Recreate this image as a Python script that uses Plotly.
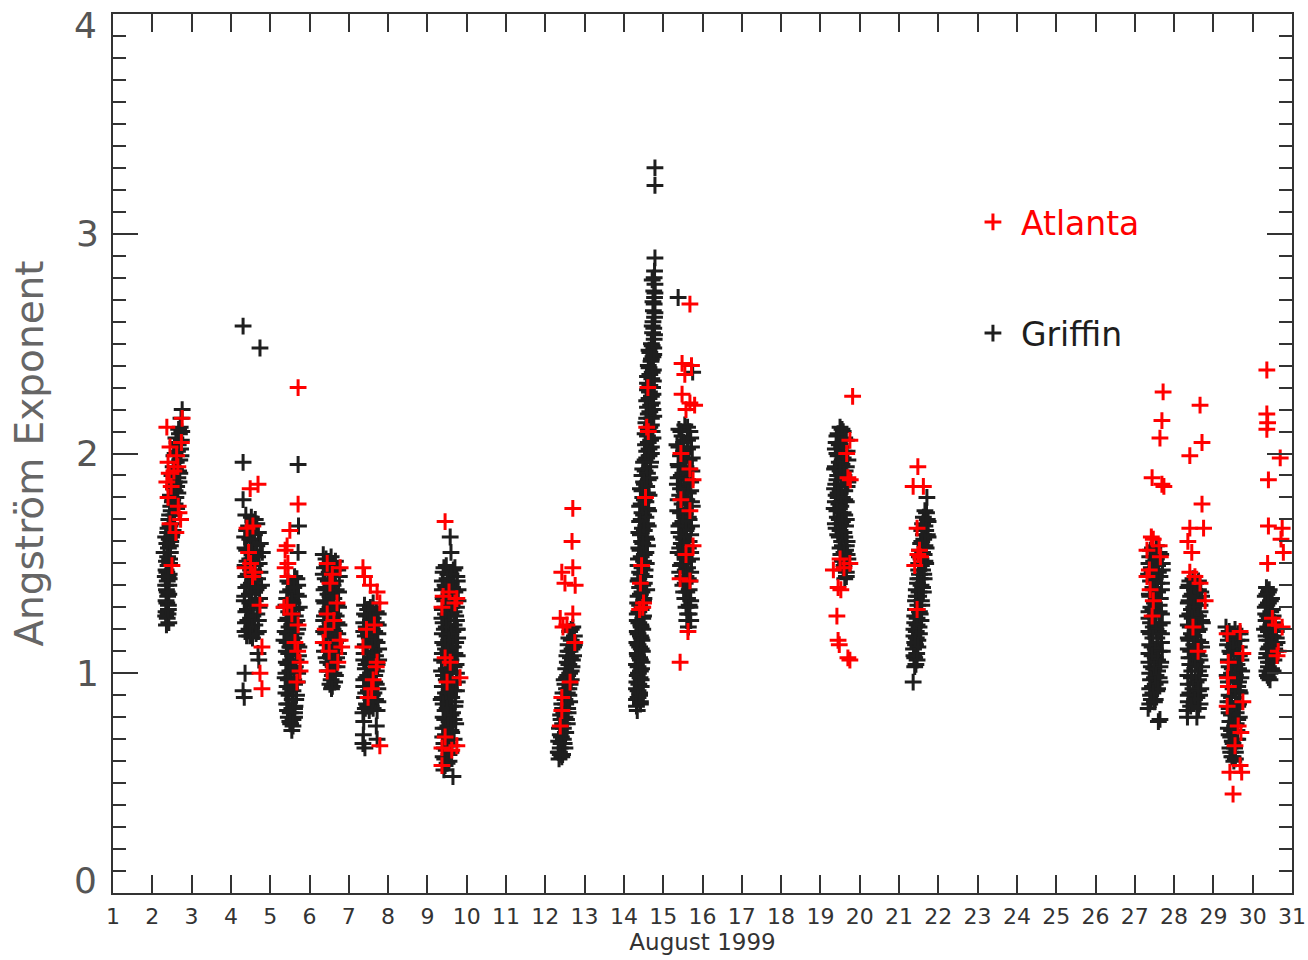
import plotly.graph_objects as go

# ---------------- Griffin (black) : (day of August 1999, Angstrom exponent) ----------------
griffin_aug02 = [(2.36,1.22),(2.38,1.25),(2.35,1.28),(2.40,1.27),(2.37,1.32),(2.39,1.35),(2.36,1.38),(2.41,1.31),
    (2.38,1.42),(2.42,1.40),(2.37,1.46),(2.40,1.49),(2.43,1.45),(2.39,1.53),(2.44,1.52),(2.41,1.57),(2.46,1.55),
    (2.43,1.61),(2.39,1.64),(2.47,1.60),(2.45,1.67),(2.50,1.63),(2.42,1.70),(2.52,1.68),(2.48,1.74),(2.55,1.72),
    (2.51,1.78),(2.46,1.81),(2.58,1.77),(2.54,1.84),(2.60,1.80),(2.57,1.87),(2.50,1.90),(2.62,1.85),(2.59,1.93),
    (2.65,1.89),(2.61,1.96),(2.55,1.99),(2.67,1.92),(2.64,2.01),(2.70,1.97),(2.66,2.04),(2.60,2.07),(2.72,2.02),
    (2.69,2.09),(2.74,2.06),(2.71,2.12),(2.76,2.20),(2.73,2.16),(2.30,1.55),(2.33,1.44),(2.34,1.62),
    (2.42,1.23),(2.34,1.26),(2.41,1.29),(2.35,1.33),(2.42,1.36),(2.34,1.40),(2.43,1.43),(2.35,1.47),(2.44,1.50),
    (2.36,1.51),(2.46,1.58),(2.37,1.59),(2.49,1.62),(2.40,1.66),(2.53,1.65),(2.44,1.72),(2.57,1.70),(2.47,1.76),
    (2.62,1.75),(2.52,1.79),(2.65,1.82),(2.55,1.86),(2.68,1.87),(2.53,1.94),(2.70,1.91),(2.58,2.00),(2.73,1.99),
    (2.63,2.05),(2.75,2.10),(2.67,2.11),(2.48,1.70),(2.58,1.83),(2.40,1.44),(2.38,1.37)]
griffin_aug04 = [(4.38,1.72),(4.62,1.70),(4.45,1.67),(4.70,1.64),(4.35,1.62),(4.55,1.60),(4.66,1.58),(4.40,1.56),
    (4.60,1.54),(4.48,1.52),(4.72,1.50),(4.36,1.49),(4.58,1.47),(4.44,1.45),(4.68,1.43),(4.52,1.41),(4.38,1.39),
    (4.64,1.38),(4.47,1.36),(4.73,1.34),(4.34,1.33),(4.57,1.31),(4.42,1.29),(4.66,1.27),(4.50,1.25),(4.37,1.23),
    (4.61,1.22),(4.46,1.20),(4.70,1.19),(4.40,1.17),(4.55,1.16),(4.31,2.58),(4.74,2.48),(4.31,1.96),(4.31,1.79),
    (4.36,1.00),(4.31,0.92),(4.34,0.89),(4.69,1.09),(4.71,1.06),(4.80,1.55),(4.78,1.40),
    (4.52,1.71),(4.66,1.68),(4.40,1.65),(4.60,1.63),(4.48,1.61),(4.75,1.59),(4.36,1.57),(4.53,1.55),(4.68,1.53),
    (4.41,1.51),(4.62,1.49),(4.50,1.47),(4.74,1.46),(4.38,1.44),(4.56,1.42),(4.45,1.40),(4.70,1.39),(4.52,1.37),
    (4.35,1.35),(4.62,1.33),(4.48,1.32),(4.72,1.30),(4.38,1.28),(4.56,1.26),(4.43,1.24),(4.70,1.24),(4.53,1.21),
    (4.36,1.19),(4.64,1.18),(4.48,1.17)]
griffin_aug05 = [(5.72,1.67),(5.71,1.55),(5.71,1.95),(5.62,1.44),(5.45,1.42),(5.70,1.40),(5.52,1.38),(5.66,1.36),
    (5.42,1.34),(5.58,1.32),(5.74,1.30),(5.47,1.28),(5.64,1.26),(5.40,1.24),(5.55,1.22),(5.70,1.20),(5.44,1.18),
    (5.60,1.16),(5.50,1.14),(5.73,1.12),(5.41,1.10),(5.57,1.08),(5.66,1.06),(5.45,1.04),(5.61,1.02),(5.40,1.00),
    (5.53,0.98),(5.69,0.96),(5.43,0.94),(5.58,0.92),(5.48,0.90),(5.65,0.88),(5.42,0.86),(5.55,0.84),(5.62,0.82),
    (5.46,0.80),(5.58,0.79),(5.52,0.77),(5.55,0.74),(5.63,0.85),(5.50,1.12),(5.68,1.24),(5.36,1.30),(5.35,1.15),
    (5.38,0.98),
    (5.68,1.43),(5.50,1.41),(5.60,1.39),(5.44,1.37),(5.72,1.35),(5.55,1.33),(5.40,1.31),(5.66,1.29),(5.52,1.27),
    (5.45,1.25),(5.62,1.23),(5.48,1.21),(5.38,1.19),(5.66,1.18),(5.54,1.16),(5.43,1.14),(5.68,1.13),(5.59,1.11),
    (5.47,1.09),(5.72,1.08),(5.52,1.06),(5.41,1.05),(5.64,1.03),(5.50,1.01),(5.70,1.00),(5.46,0.97),(5.62,0.95),
    (5.52,0.93),(5.40,0.91),(5.67,0.90),(5.56,0.88),(5.47,0.86),(5.62,0.84),(5.51,0.82),(5.44,0.83),(5.62,0.80),
    (5.50,0.78),(5.58,0.76),(5.60,0.97)]
griffin_aug06 = [(6.35,1.54),(6.42,1.52),(6.60,1.50),(6.38,1.48),(6.72,1.47),(6.50,1.46),(6.40,1.43),(6.66,1.42),
    (6.55,1.40),(6.37,1.38),(6.74,1.37),(6.47,1.36),(6.62,1.34),(6.39,1.32),(6.70,1.31),(6.52,1.30),(6.44,1.28),
    (6.68,1.26),(6.58,1.25),(6.36,1.24),(6.75,1.22),(6.48,1.21),(6.64,1.19),(6.41,1.18),(6.56,1.16),(6.72,1.15),
    (6.45,1.13),(6.62,1.11),(6.38,1.10),(6.53,1.08),(6.69,1.07),(6.46,1.05),(6.60,1.03),(6.50,1.01),(6.66,0.99),
    (6.55,0.97),(6.58,0.94),(6.62,1.00),
    (6.55,1.53),(6.66,1.51),(6.45,1.49),(6.62,1.47),(6.35,1.45),(6.76,1.44),(6.48,1.42),(6.60,1.40),(6.42,1.39),
    (6.68,1.38),(6.52,1.35),(6.36,1.33),(6.58,1.32),(6.74,1.30),(6.47,1.29),(6.62,1.27),(6.38,1.26),(6.52,1.23),
    (6.70,1.23),(6.44,1.21),(6.60,1.20),(6.36,1.19),(6.72,1.18),(6.52,1.17),(6.66,1.14),(6.40,1.14),(6.58,1.12),
    (6.48,1.10),(6.74,1.09),(6.42,1.07),(6.62,1.06),(6.55,1.04),(6.70,1.03),(6.46,1.01),(6.58,0.99),(6.64,0.96),
    (6.52,0.95),(6.56,0.93)]
griffin_aug07 = [(7.40,1.31),(7.55,1.30),(7.70,1.28),(7.45,1.26),(7.62,1.25),(7.38,1.23),(7.75,1.22),(7.50,1.20),
    (7.66,1.19),(7.42,1.17),(7.58,1.15),(7.72,1.14),(7.47,1.12),(7.64,1.10),(7.39,1.09),(7.55,1.07),(7.76,1.06),
    (7.44,1.04),(7.60,1.02),(7.70,1.01),(7.48,0.99),(7.38,0.97),(7.66,0.96),(7.53,0.94),(7.74,0.93),(7.43,0.91),
    (7.60,0.90),(7.68,0.88),(7.45,0.86),(7.57,0.85),(7.36,0.82),(7.72,0.83),(7.38,0.78),(7.70,0.76),(7.37,0.72),
    (7.72,0.70),(7.36,0.68),(7.41,0.66),(7.50,1.18),(7.62,1.05),
    (7.62,1.32),(7.48,1.29),(7.75,1.27),(7.40,1.27),(7.55,1.24),(7.70,1.23),(7.44,1.21),(7.60,1.20),(7.38,1.19),
    (7.74,1.18),(7.52,1.16),(7.66,1.15),(7.42,1.13),(7.58,1.12),(7.76,1.11),(7.46,1.09),(7.68,1.08),(7.38,1.06),
    (7.52,1.05),(7.72,1.04),(7.42,1.02),(7.56,1.00),(7.66,0.99),(7.44,0.98),(7.60,0.96),(7.38,0.94),(7.70,0.95),
    (7.50,0.92),(7.64,0.91),(7.40,0.89),(7.56,0.88),(7.74,0.87),(7.48,0.85),(7.62,0.84),(7.42,0.84),(7.52,0.83)]
griffin_aug09 = [(9.58,1.62),(9.60,1.55),(9.42,1.48),(9.66,1.47),(9.52,1.45),(9.75,1.44),(9.38,1.42),(9.60,1.41),
    (9.47,1.39),(9.70,1.37),(9.55,1.36),(9.40,1.34),(9.78,1.33),(9.63,1.31),(9.45,1.30),(9.68,1.28),(9.52,1.26),
    (9.37,1.25),(9.74,1.24),(9.58,1.22),(9.43,1.20),(9.65,1.19),(9.50,1.17),(9.77,1.16),(9.39,1.14),(9.60,1.12),
    (9.46,1.11),(9.70,1.09),(9.55,1.07),(9.36,1.06),(9.73,1.04),(9.48,1.02),(9.63,1.01),(9.41,0.99),(9.57,0.97),
    (9.76,0.96),(9.44,0.94),(9.67,0.92),(9.52,0.90),(9.38,0.89),(9.71,0.87),(9.59,0.85),(9.45,0.83),(9.64,0.82),
    (9.40,0.80),(9.55,0.78),(9.72,0.77),(9.47,0.75),(9.62,0.73),(9.39,0.71),(9.68,0.70),(9.50,0.68),(9.43,0.66),
    (9.60,0.64),(9.40,0.62),(9.55,0.60),(9.45,0.58),(9.65,0.53),(9.75,1.20),(9.35,0.88),
    (9.48,1.49),(9.70,1.48),(9.40,1.46),(9.60,1.45),(9.76,1.42),(9.50,1.43),(9.45,1.40),(9.64,1.39),(9.38,1.38),
    (9.78,1.38),(9.52,1.35),(9.68,1.34),(9.44,1.33),(9.58,1.32),(9.74,1.30),(9.38,1.29),(9.60,1.27),(9.46,1.27),
    (9.72,1.26),(9.55,1.24),(9.40,1.23),(9.68,1.22),(9.48,1.21),(9.76,1.20),(9.60,1.18),(9.38,1.18),(9.54,1.15),
    (9.72,1.14),(9.44,1.13),(9.66,1.12),(9.52,1.10),(9.38,1.09),(9.76,1.08),(9.60,1.06),(9.44,1.05),(9.68,1.03),
    (9.52,1.01),(9.36,1.01),(9.74,1.00),(9.60,0.98),(9.48,0.97),(9.66,0.95),(9.38,0.94),(9.58,0.93),(9.74,0.92),
    (9.46,0.91),(9.62,0.89),(9.54,0.87),(9.40,0.86),(9.70,0.85),(9.50,0.84),(9.60,0.81),(9.44,0.79),(9.68,0.79),
    (9.52,0.76),(9.40,0.75),(9.60,0.74),(9.46,0.72),(9.56,0.70),(9.42,0.68),(9.62,0.67),(9.48,0.65),(9.55,0.63),
    (9.44,0.61),(9.50,0.59),(9.42,0.56)]
griffin_aug12 = [(12.70,1.21),(12.62,1.19),(12.74,1.17),(12.66,1.15),(12.58,1.13),(12.72,1.12),(12.63,1.10),
    (12.55,1.08),(12.69,1.06),(12.60,1.04),(12.52,1.02),(12.66,1.01),(12.57,0.99),(12.48,0.97),(12.63,0.95),
    (12.54,0.93),(12.45,0.91),(12.60,0.90),(12.50,0.88),(12.42,0.86),(12.57,0.84),(12.47,0.82),(12.39,0.81),
    (12.54,0.79),(12.44,0.77),(12.36,0.75),(12.51,0.73),(12.41,0.71),(12.34,0.69),(12.48,0.68),(12.38,0.66),
    (12.33,0.64),(12.44,0.63),(12.35,0.61),
    (12.66,1.20),(12.74,1.13),(12.60,1.16),(12.68,1.11),(12.72,1.08),(12.58,1.10),(12.64,1.07),(12.56,1.05),
    (12.68,1.03),(12.62,1.00),(12.54,0.98),(12.66,0.97),(12.50,0.95),(12.60,0.93),(12.56,0.91),(12.46,0.89),
    (12.62,0.87),(12.52,0.86),(12.44,0.84),(12.58,0.82),(12.50,0.80),(12.40,0.79),(12.56,0.77),(12.46,0.75),
    (12.52,0.73),(12.38,0.72),(12.46,0.70),(12.40,0.68),(12.50,0.66),(12.36,0.64),(12.42,0.62),(12.38,0.63)]
griffin_aug14 = [(14.79,3.30),(14.79,3.22),(14.79,2.89),(14.78,2.83),(14.77,2.80),(14.79,2.77),(14.76,2.74),
    (14.78,2.71),(14.77,2.68),(14.75,2.65),(14.78,2.62),(14.74,2.60),(14.76,2.57),(14.73,2.55),(14.77,2.52),
    (14.70,2.50),(14.76,2.48),(14.66,2.46),(14.74,2.44),(14.69,2.42),(14.62,2.40),(14.75,2.38),(14.66,2.36),
    (14.71,2.34),(14.60,2.32),(14.73,2.30),(14.65,2.28),(14.70,2.26),(14.58,2.24),(14.68,2.22),(14.74,2.20),
    (14.62,2.18),(14.70,2.16),(14.56,2.14),(14.66,2.12),(14.72,2.10),(14.60,2.08),(14.68,2.06),(14.55,2.04),
    (14.64,2.02),(14.70,2.00),(14.58,1.98),(14.50,1.96),(14.66,1.94),(14.54,1.92),(14.46,1.90),(14.62,1.88),
    (14.52,1.86),(14.42,1.84),(14.60,1.82),(14.48,1.80),(14.56,1.78),(14.40,1.76),(14.63,1.74),(14.50,1.72),
    (14.44,1.70),(14.58,1.68),(14.47,1.66),(14.38,1.64),(14.55,1.62),(14.45,1.60),(14.60,1.58),(14.41,1.56),
    (14.52,1.54),(14.37,1.52),(14.57,1.50),(14.46,1.48),(14.40,1.46),(14.53,1.44),(14.36,1.42),(14.48,1.40),
    (14.58,1.38),(14.42,1.36),(14.51,1.34),(14.35,1.32),(14.46,1.30),(14.38,1.28),(14.50,1.26),(14.34,1.24),
    (14.43,1.22),(14.48,1.20),(14.36,1.18),(14.44,1.16),(14.33,1.14),(14.40,1.12),(14.47,1.10),(14.35,1.08),
    (14.42,1.06),(14.32,1.04),(14.45,1.02),(14.37,1.00),(14.41,0.98),(14.33,0.96),(14.44,0.94),(14.36,0.92),
    (14.40,0.90),(14.32,0.88),(14.42,0.86),(14.34,0.83),
    (14.72,2.79),(14.79,2.73),(14.74,2.69),(14.79,2.64),(14.72,2.58),(14.78,2.54),(14.72,2.49),(14.64,2.47),
    (14.76,2.45),(14.70,2.43),(14.64,2.39),(14.72,2.37),(14.60,2.35),(14.75,2.33),(14.66,2.31),(14.60,2.29),
    (14.74,2.27),(14.64,2.25),(14.72,2.23),(14.60,2.21),(14.66,2.19),(14.76,2.17),(14.58,2.16),(14.70,2.13),
    (14.62,2.11),(14.54,2.09),(14.74,2.07),(14.62,2.05),(14.70,2.03),(14.58,2.01),(14.64,1.99),(14.54,1.97),
    (14.68,1.96),(14.48,1.93),(14.60,1.91),(14.66,1.89),(14.50,1.87),(14.58,1.85),(14.46,1.83),(14.64,1.81),
    (14.52,1.79),(14.44,1.77),(14.60,1.75),(14.46,1.73),(14.56,1.71),(14.40,1.69),(14.62,1.67),(14.52,1.65),
    (14.42,1.63),(14.58,1.61),(14.48,1.59),(14.38,1.57),(14.56,1.55),(14.44,1.53),(14.50,1.51),(14.36,1.49),
    (14.54,1.47),(14.44,1.45),(14.38,1.43),(14.52,1.41),(14.40,1.39),(14.46,1.37),(14.36,1.35),(14.50,1.33),
    (14.40,1.31),(14.44,1.29),(14.34,1.27),(14.48,1.25),(14.38,1.23),(14.44,1.21),(14.34,1.19),(14.42,1.17),
    (14.46,1.15),(14.36,1.13),(14.44,1.11),(14.34,1.09),(14.40,1.07),(14.46,1.05),(14.36,1.03),(14.42,1.01),
    (14.34,0.99),(14.44,0.97),(14.38,0.95),(14.32,0.93),(14.40,0.91),(14.36,0.89),(14.42,0.87),(14.32,0.85)]
griffin_aug15 = [(15.38,2.71),(15.75,2.37),(15.55,2.13),(15.40,2.11),(15.68,2.10),(15.48,2.08),(15.62,2.06),
    (15.35,2.04),(15.72,2.03),(15.52,2.01),(15.44,1.99),(15.66,1.97),(15.38,1.95),(15.58,1.94),(15.73,1.92),
    (15.46,1.90),(15.62,1.88),(15.36,1.86),(15.54,1.85),(15.70,1.83),(15.42,1.81),(15.60,1.79),(15.48,1.77),
    (15.74,1.76),(15.37,1.74),(15.56,1.72),(15.66,1.70),(15.44,1.68),(15.60,1.66),(15.40,1.64),(15.70,1.63),
    (15.52,1.61),(15.46,1.59),(15.64,1.57),(15.38,1.55),(15.56,1.53),(15.72,1.52),(15.48,1.50),(15.62,1.48),
    (15.42,1.46),(15.58,1.44),(15.68,1.42),(15.50,1.40),(15.60,1.37),(15.55,1.34),(15.66,1.31),(15.62,1.27),
    (15.70,1.24),(15.64,1.21),(15.68,1.30),
    (15.62,2.12),(15.45,2.10),(15.70,2.07),(15.52,2.05),(15.40,2.03),(15.62,2.02),(15.48,2.00),(15.74,1.98),
    (15.56,1.96),(15.40,1.94),(15.66,1.93),(15.50,1.91),(15.38,1.89),(15.70,1.87),(15.58,1.86),(15.44,1.84),
    (15.64,1.82),(15.52,1.80),(15.38,1.79),(15.72,1.78),(15.56,1.75),(15.44,1.73),(15.64,1.71),(15.50,1.69),
    (15.72,1.67),(15.40,1.67),(15.58,1.65),(15.46,1.62),(15.66,1.60),(15.54,1.58),(15.42,1.57),(15.70,1.55),
    (15.50,1.54),(15.62,1.51),(15.44,1.49),(15.56,1.47),(15.70,1.46),(15.50,1.44),(15.64,1.43),(15.56,1.41),
    (15.66,1.38),(15.52,1.37),(15.62,1.34),(15.70,1.33),(15.58,1.30),(15.66,1.27),(15.60,1.24)]
griffin_aug19 = [(19.50,2.12),(19.58,2.10),(19.42,2.08),(19.66,2.06),(19.48,2.04),(19.38,2.02),(19.60,2.01),
    (19.45,1.99),(19.70,1.97),(19.53,1.95),(19.36,1.93),(19.63,1.92),(19.44,1.90),(19.56,1.88),(19.39,1.86),
    (19.68,1.85),(19.50,1.83),(19.40,1.81),(19.62,1.79),(19.47,1.77),(19.35,1.75),(19.58,1.73),(19.43,1.71),
    (19.66,1.70),(19.52,1.68),(19.40,1.66),(19.60,1.64),(19.48,1.62),(19.68,1.60),(19.56,1.58),(19.64,1.56),
    (19.52,1.54),(19.70,1.52),(19.60,1.49),(19.66,1.46),(19.62,1.43),(19.45,1.80),(19.55,1.95),
    (19.55,2.11),(19.45,2.09),(19.62,2.07),(19.40,2.05),(19.54,2.03),(19.68,2.01),(19.42,2.00),(19.58,1.98),
    (19.48,1.96),(19.38,1.94),(19.66,1.94),(19.50,1.92),(19.60,1.90),(19.42,1.88),(19.70,1.87),(19.52,1.86),
    (19.36,1.84),(19.62,1.83),(19.45,1.82),(19.56,1.80),(19.38,1.78),(19.66,1.78),(19.52,1.76),(19.42,1.74),
    (19.62,1.72),(19.48,1.70),(19.56,1.69),(19.38,1.68),(19.64,1.67),(19.50,1.65),(19.44,1.63),(19.62,1.62),
    (19.54,1.60),(19.66,1.58),(19.50,1.57),(19.60,1.55),(19.68,1.54),(19.56,1.51),(19.64,1.50),(19.58,1.47),
    (19.66,1.44)]
griffin_aug21 = [(21.71,1.80),(21.70,1.73),(21.62,1.71),(21.74,1.69),(21.66,1.67),(21.58,1.65),(21.72,1.63),
    (21.63,1.61),(21.55,1.59),(21.69,1.57),(21.60,1.55),(21.52,1.53),(21.66,1.51),(21.57,1.49),(21.50,1.47),
    (21.63,1.45),(21.54,1.43),(21.47,1.41),(21.60,1.39),(21.51,1.37),(21.44,1.35),(21.57,1.33),(21.48,1.31),
    (21.42,1.29),(21.54,1.27),(21.46,1.25),(21.40,1.23),(21.51,1.21),(21.44,1.19),(21.38,1.17),(21.48,1.15),
    (21.42,1.13),(21.37,1.11),(21.45,1.09),(21.40,1.07),(21.43,1.04),(21.36,0.96),
    (21.66,1.74),(21.72,1.70),(21.60,1.68),(21.68,1.65),(21.62,1.63),(21.74,1.62),(21.58,1.60),(21.66,1.58),
    (21.52,1.56),(21.64,1.54),(21.56,1.52),(21.68,1.50),(21.50,1.50),(21.60,1.47),(21.52,1.45),(21.64,1.43),
    (21.48,1.43),(21.56,1.40),(21.44,1.38),(21.62,1.37),(21.50,1.35),(21.42,1.33),(21.58,1.31),(21.46,1.29),
    (21.52,1.28),(21.40,1.26),(21.56,1.24),(21.46,1.22),(21.38,1.20),(21.52,1.18),(21.44,1.16),(21.40,1.14),
    (21.48,1.12),(21.38,1.08),(21.46,1.06),(21.40,1.03)]
griffin_aug27 = [(27.45,1.57),(27.62,1.55),(27.38,1.53),(27.55,1.52),(27.70,1.50),(27.42,1.48),(27.60,1.46),
    (27.35,1.45),(27.52,1.43),(27.68,1.41),(27.46,1.39),(27.58,1.37),(27.37,1.36),(27.65,1.34),(27.50,1.32),
    (27.41,1.30),(27.62,1.28),(27.54,1.27),(27.36,1.25),(27.70,1.23),(27.47,1.21),(27.60,1.19),(27.40,1.18),
    (27.56,1.16),(27.68,1.14),(27.44,1.12),(27.62,1.10),(27.36,1.09),(27.52,1.07),(27.66,1.05),(27.42,1.03),
    (27.58,1.01),(27.38,1.00),(27.50,0.98),(27.64,0.96),(27.45,0.94),(27.56,0.92),(27.40,0.90),(27.52,0.88),
    (27.38,0.86),(27.34,0.84),(27.64,0.79),(27.60,0.78),
    (27.55,1.58),(27.40,1.56),(27.66,1.54),(27.48,1.51),(27.36,1.50),(27.58,1.49),(27.70,1.47),(27.44,1.46),
    (27.64,1.44),(27.40,1.42),(27.56,1.41),(27.48,1.38),(27.68,1.38),(27.38,1.35),(27.56,1.34),(27.62,1.31),
    (27.46,1.29),(27.36,1.28),(27.68,1.27),(27.50,1.26),(27.40,1.23),(27.62,1.22),(27.54,1.20),(27.36,1.19),
    (27.68,1.18),(27.46,1.16),(27.60,1.14),(27.38,1.13),(27.52,1.11),(27.70,1.10),(27.44,1.08),(27.58,1.06),
    (27.36,1.05),(27.64,1.03),(27.48,1.02),(27.54,0.99),(27.40,0.97),(27.62,0.98),(27.52,0.95),(27.38,0.93),
    (27.58,0.93),(27.46,0.91),(27.42,0.88),(27.50,0.87)]
griffin_aug28 = [(28.40,1.42),(28.55,1.41),(28.35,1.39),(28.62,1.38),(28.46,1.36),(28.70,1.35),(28.38,1.33),
    (28.58,1.31),(28.44,1.29),(28.66,1.28),(28.34,1.26),(28.52,1.24),(28.72,1.23),(28.41,1.21),(28.60,1.19),
    (28.48,1.17),(28.36,1.16),(28.68,1.14),(28.54,1.12),(28.42,1.10),(28.64,1.08),(28.38,1.07),(28.56,1.05),
    (28.70,1.03),(28.45,1.01),(28.35,0.99),(28.62,0.97),(28.50,0.95),(28.68,0.93),(28.40,0.91),(28.58,0.89),
    (28.36,0.87),(28.66,0.86),(28.33,0.83),(28.58,0.80),(28.65,0.90),
    (28.48,1.43),(28.62,1.42),(28.38,1.40),(28.52,1.38),(28.68,1.37),(28.42,1.35),(28.60,1.34),(28.36,1.32),
    (28.66,1.31),(28.50,1.30),(28.40,1.27),(28.62,1.26),(28.46,1.25),(28.70,1.24),(28.36,1.22),(28.56,1.21),
    (28.64,1.20),(28.44,1.18),(28.38,1.15),(28.60,1.15),(28.50,1.13),(28.70,1.12),(28.36,1.11),(28.58,1.09),
    (28.46,1.07),(28.66,1.06),(28.40,1.04),(28.54,1.03),(28.62,1.01),(28.44,0.98),(28.66,0.99),(28.56,0.96),
    (28.36,0.95),(28.48,0.93),(28.62,0.92),(28.36,0.90),(28.52,0.88),(28.42,0.85),(28.62,0.84),(28.34,0.80)]
griffin_aug29 = [(29.32,1.21),(29.40,1.19),(29.62,1.18),(29.50,1.16),(29.70,1.15),(29.36,1.13),(29.56,1.11),
    (29.45,1.09),(29.66,1.08),(29.38,1.06),(29.60,1.04),(29.48,1.02),(29.72,1.01),(29.35,0.99),(29.54,0.97),
    (29.64,0.96),(29.42,0.94),(29.58,0.92),(29.68,0.91),(29.46,0.89),(29.37,0.87),(29.62,0.85),(29.52,0.84),
    (29.40,0.82),(29.66,0.80),(29.48,0.78),(29.58,0.77),(29.38,0.75),(29.54,0.73),(29.44,0.71),(29.62,0.70),
    (29.50,0.68),(29.42,0.66),(29.56,0.64),(29.47,0.62),(29.52,0.60),
    (29.55,1.20),(29.68,1.18),(29.44,1.17),(29.60,1.15),(29.38,1.15),(29.66,1.12),(29.50,1.12),(29.42,1.10),
    (29.60,1.08),(29.70,1.06),(29.52,1.05),(29.40,1.03),(29.64,1.02),(29.46,1.00),(29.56,0.99),(29.70,0.98),
    (29.38,0.96),(29.62,0.94),(29.50,0.93),(29.66,0.92),(29.40,0.90),(29.56,0.89),(29.46,0.87),(29.64,0.86),
    (29.40,0.84),(29.58,0.82),(29.46,0.81),(29.62,0.79),(29.42,0.78),(29.54,0.76),(29.60,0.74),(29.46,0.74),
    (29.40,0.72),(29.58,0.70),(29.48,0.69),(29.54,0.66),(29.44,0.64),(29.50,0.62),(29.56,0.61)]
griffin_aug30 = [(30.35,1.39),(30.40,1.37),(30.32,1.35),(30.45,1.33),(30.36,1.31),(30.50,1.29),(30.33,1.27),
    (30.42,1.25),(30.55,1.23),(30.38,1.21),(30.48,1.19),(30.34,1.17),(30.44,1.15),(30.56,1.13),(30.39,1.11),
    (30.50,1.09),(30.35,1.07),(30.46,1.05),(30.40,1.03),(30.52,1.01),(30.37,0.99),(30.44,0.97),(30.58,1.10),
    (30.60,1.16),
    (30.42,1.38),(30.36,1.36),(30.48,1.34),(30.40,1.32),(30.32,1.30),(30.46,1.28),(30.38,1.26),(30.52,1.26),
    (30.34,1.24),(30.46,1.22),(30.56,1.20),(30.40,1.19),(30.52,1.17),(30.36,1.15),(30.48,1.13),(30.42,1.12),
    (30.56,1.11),(30.36,1.09),(30.46,1.08),(30.54,1.06),(30.40,1.05),(30.48,1.02),(30.36,1.01),(30.44,1.00),
    (30.40,0.98),(30.62,1.14),(30.60,1.19),(30.30,1.20)]

# ---------------- Atlanta (red) ----------------
atlanta_aug02 = [(2.37,2.12),(2.76,2.16),(2.45,2.03),(2.40,1.96),(2.65,1.94),(2.37,1.87),(2.40,1.80),(2.68,1.73),
    (2.45,1.68),(2.60,1.64),(2.50,1.49),(2.55,1.92),(2.62,1.99),(2.72,1.70),(2.48,1.85),(2.74,2.05),(2.43,1.91),
    (2.66,1.76)]
atlanta_aug04 = [(4.49,1.84),(4.69,1.86),(4.41,1.66),(4.56,1.67),(4.36,1.48),(4.61,1.46),(4.50,1.50),(4.74,1.31),
    (4.55,1.44),(4.79,1.12),(4.74,1.00),(4.79,0.93),(4.45,1.55)]
atlanta_aug05 = [(5.71,2.30),(5.71,1.77),(5.50,1.65),(5.43,1.58),(5.38,1.56),(5.45,1.50),(5.38,1.48),(5.45,1.44),
    (5.43,1.31),(5.35,1.30),(5.71,1.22),(5.63,1.14),(5.76,1.05),(5.76,1.01),(5.68,0.96),(5.55,1.27),(5.70,1.10)]
atlanta_aug06 = [(6.45,1.50),(6.78,1.48),(6.52,1.41),(6.70,1.32),(6.45,1.27),(6.35,1.14),(6.78,1.15),(6.50,1.10),
    (6.45,1.01),(6.82,1.12),(6.58,1.45),(6.40,1.20),(6.62,1.24),(6.72,1.05)]
atlanta_aug07 = [(7.36,1.48),(7.40,1.44),(7.72,1.37),(7.79,1.32),(7.55,1.40),(7.36,1.12),(7.72,1.05),(7.62,0.97),
    (7.49,0.89),(7.79,0.67),(7.70,1.03),(7.45,1.20),(7.65,1.22),(7.58,0.93)]
atlanta_aug09 = [(9.45,1.69),(9.40,1.35),(9.75,1.34),(9.37,1.30),(9.45,1.07),(9.58,1.05),(9.83,0.98),(9.50,0.96),
    (9.45,0.71),(9.75,0.67),(9.37,0.66),(9.37,0.58),(9.62,0.65),(9.70,1.32),(9.55,1.37)]
atlanta_aug12 = [(12.70,1.75),(12.68,1.60),(12.42,1.46),(12.70,1.48),(12.50,1.41),(12.76,1.40),(12.70,1.27),
    (12.38,1.25),(12.45,1.21),(12.75,1.14),(12.63,0.96),(12.42,0.89),(12.42,0.83),(12.38,0.76),(12.55,1.22)]
atlanta_aug14 = [(14.61,2.30),(14.58,2.12),(14.62,2.10),(14.55,1.80),(14.45,1.49),(14.42,1.41),(14.50,1.32),
    (14.40,1.29),(14.48,1.30)]
atlanta_aug15 = [(15.68,2.68),(15.48,2.41),(15.55,2.36),(15.48,2.27),(15.68,2.23),(15.58,2.20),(15.45,2.00),
    (15.68,1.93),(15.76,1.88),(15.45,1.79),(15.68,1.74),(15.76,1.58),(15.58,1.54),(15.68,1.42),(15.43,1.43),
    (15.63,1.19),(15.43,1.05),(15.80,2.22),(15.72,2.40)]
atlanta_aug19 = [(19.82,2.26),(19.75,2.06),(19.67,2.00),(19.70,1.89),(19.76,1.88),(19.50,1.52),(19.75,1.50),
    (19.33,1.47),(19.45,1.39),(19.52,1.38),(19.42,1.26),(19.45,1.15),(19.70,1.07),(19.75,1.06),(19.48,1.13),
    (19.60,1.48)]
atlanta_aug21 = [(21.48,1.94),(21.36,1.85),(21.62,1.85),(21.46,1.66),(21.48,1.54),(21.55,1.53),(21.40,1.49),
    (21.46,1.29),(21.52,1.56)]
atlanta_aug27 = [(27.72,2.28),(27.69,2.15),(27.64,2.07),(27.44,1.89),(27.69,1.86),(27.74,1.85),(27.47,1.61),
    (27.62,1.58),(27.31,1.56),(27.65,1.53),(27.37,1.47),(27.31,1.44),(27.39,1.38),(27.47,1.33),(27.44,1.26),
    (27.42,1.62)]
atlanta_aug28 = [(28.66,2.22),(28.71,2.05),(28.40,1.99),(28.71,1.77),(28.40,1.66),(28.75,1.66),(28.35,1.60),
    (28.45,1.55),(28.40,1.46),(28.53,1.44),(28.66,1.41),(28.79,1.33),(28.48,1.21),(28.61,1.10)]
atlanta_aug29 = [(29.35,1.18),(29.68,1.19),(29.38,1.05),(29.36,0.98),(29.38,0.94),(29.35,0.85),(29.75,0.87),
    (29.63,0.76),(29.70,0.73),(29.55,0.67),(29.68,0.58),(29.42,0.55),(29.50,0.45),(29.72,0.55),(29.75,1.09)]
atlanta_aug30 = [(30.36,2.38),(30.36,2.18),(30.38,2.14),(30.36,2.11),(30.70,1.98),(30.40,1.88),(30.40,1.67),
    (30.75,1.66),(30.72,1.61),(30.78,1.55),(30.38,1.50),(30.50,1.25),(30.75,1.21),(30.62,1.08),(30.65,1.10),
    (30.58,1.22)]

day_ticks = list(range(1, 32))
y_ticks = [0, 1, 2, 3, 4]
# end labels of the y axis are drawn as annotations, nudged inward as in the original
y_end_labels = [(0, "0", 13), (4, "4", -11)]

griffin = (griffin_aug02 + griffin_aug04 + griffin_aug05 + griffin_aug06 + griffin_aug07 + griffin_aug09 +
           griffin_aug12 + griffin_aug14 + griffin_aug15 + griffin_aug19 + griffin_aug21 + griffin_aug27 +
           griffin_aug28 + griffin_aug29 + griffin_aug30)
atlanta = (atlanta_aug02 + atlanta_aug04 + atlanta_aug05 + atlanta_aug06 + atlanta_aug07 + atlanta_aug09 +
           atlanta_aug12 + atlanta_aug14 + atlanta_aug15 + atlanta_aug19 + atlanta_aug21 + atlanta_aug27 +
           atlanta_aug28 + atlanta_aug29 + atlanta_aug30)

BLACK = "#1e1e1e"
RED = "#ff0000"
AXC = "#333333"
YLAB = "#555555"

fig = go.Figure()
fig.add_trace(go.Scatter(
    x=[p[0] for p in griffin], y=[p[1] for p in griffin], mode="markers", name="Griffin",
    marker=dict(symbol="cross-thin", size=12, color=BLACK, line=dict(color=BLACK, width=3)),
    legend="legend2"))
fig.add_trace(go.Scatter(
    x=[p[0] for p in atlanta], y=[p[1] for p in atlanta], mode="markers", name="Atlanta",
    marker=dict(symbol="cross-thin", size=12, color=RED, line=dict(color=RED, width=3)),
    legend="legend"))

for val, txt, shift in y_end_labels:
    fig.add_annotation(x=0, xref="paper", y=val, yref="y", text=txt, showarrow=False,
                       xanchor="right", yanchor="middle", xshift=-14, yshift=shift,
                       font=dict(size=36, color=YLAB, family="DejaVu Sans"))

fig.update_layout(
    width=1308, height=960,
    margin=dict(l=113, r=16, t=14, b=67),
    paper_bgcolor="white", plot_bgcolor="white",
    font=dict(family="DejaVu Sans", color=AXC),
    showlegend=True,
    legend=dict(x=0.7226, y=0.7634, xanchor="left", yanchor="middle", bgcolor="rgba(0,0,0,0)",
                font=dict(size=33, color=RED, family="DejaVu Sans"), itemwidth=46),
    legend2=dict(x=0.7226, y=0.637, xanchor="left", yanchor="middle", bgcolor="rgba(0,0,0,0)",
                 font=dict(size=33, color=BLACK, family="DejaVu Sans"), itemwidth=46),
    xaxis=dict(range=[1, 31], tickvals=day_ticks, ticktext=[str(d) for d in day_ticks],
               ticks="inside", ticklen=18, tickwidth=2, tickcolor=AXC,
               showline=True, linewidth=2, linecolor=AXC, mirror="ticks",
               showgrid=False, zeroline=False, automargin=False,
               tickfont=dict(size=22, color=AXC), ticklabelstandoff=3,
               title=dict(text="August 1999", font=dict(size=23, color=AXC), standoff=5)),
    yaxis=dict(range=[0, 4], tickvals=y_ticks,
               ticktext=["" if v in (0, 4) else str(v) for v in y_ticks],
               ticks="inside", ticklen=25, tickwidth=2, tickcolor=AXC,
               minor=dict(dtick=0.1, ticks="inside", ticklen=13, tickwidth=2, tickcolor=AXC),
               showline=True, linewidth=2, linecolor=AXC, mirror="ticks",
               showgrid=False, zeroline=False, automargin=False,
               tickfont=dict(size=36, color=YLAB), ticklabelstandoff=5,
               title=dict(text="Angström Exponent", font=dict(size=39, color="#666666"), standoff=20)),
)

fig.write_html("out.html")
